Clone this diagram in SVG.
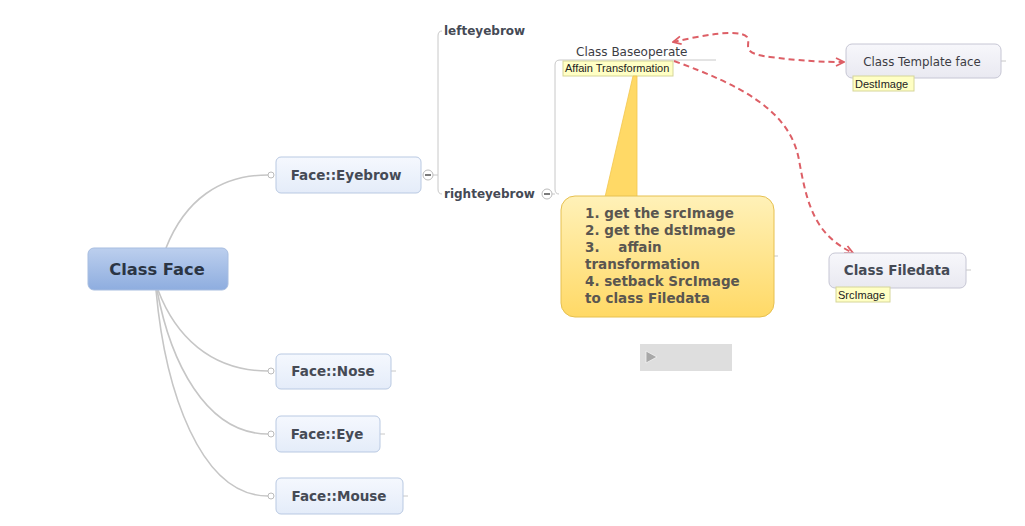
<svg xmlns="http://www.w3.org/2000/svg" width="1025" height="526" viewBox="0 0 1025 526">
<defs>
<linearGradient id="gRoot" x1="0" y1="0" x2="0" y2="1"><stop offset="0" stop-color="#bccfee"/><stop offset="1" stop-color="#8eaddf"/></linearGradient>
<linearGradient id="gTopic" x1="0" y1="0" x2="0" y2="1"><stop offset="0" stop-color="#f5f8fe"/><stop offset="1" stop-color="#e4ecf9"/></linearGradient>
<linearGradient id="gGray" x1="0" y1="0" x2="0" y2="1"><stop offset="0" stop-color="#f7f7fb"/><stop offset="1" stop-color="#e9e9f1"/></linearGradient>
<linearGradient id="gNote" x1="0" y1="0" x2="0" y2="1"><stop offset="0" stop-color="#fff1b8"/><stop offset="1" stop-color="#ffd966"/></linearGradient>
<marker id="arr" viewBox="0 0 10 10" refX="9" refY="5" markerWidth="10" markerHeight="10" markerUnits="userSpaceOnUse" orient="auto-start-reverse">
<path d="M1,1 L9,5 L1,9" fill="none" stroke="#dd5f66" stroke-width="1.8"/>
</marker>
<style>
.topic{fill:url(#gTopic);stroke:#b9c9e2;stroke-width:1}
.gray{fill:url(#gGray);stroke:#c6c6d4;stroke-width:1}
.t{font-family:"DejaVu Sans",Verdana,sans-serif;font-weight:bold;font-size:13.5px;fill:#454a55}
.n{font-family:"DejaVu Sans",Verdana,sans-serif;font-size:12px;fill:#3c3c44}
.lab{fill:#ffffc4;stroke:#d6d69a;stroke-width:1}
.lt{font-family:"Liberation Sans",Arial,sans-serif;font-size:11px;fill:#222}
.conn{fill:none;stroke:#c6c6c6;stroke-width:1.6}
.br{fill:none;stroke:#c8c8c8;stroke-width:1}
.dot{fill:#fff;stroke:#bbb;stroke-width:1}
.rel{fill:none;stroke:#dd5f66;stroke-width:2;stroke-dasharray:6,4}
.ct{font-family:"DejaVu Sans",Verdana,sans-serif;font-weight:bold;font-size:13.5px;fill:#5a5650}
</style>
</defs>
<rect width="1025" height="526" fill="#fff"/>
<g id="connectors">
<path class="conn" d="M166,248 C185,200 220,175 268,175"/>
<path class="conn" d="M158,290 C175,335 210,371 268,371"/>
<path class="conn" d="M157,290 C170,360 205,434 268,434"/>
<path class="conn" d="M156,290 C165,390 200,496 268,496"/>
<circle class="dot" cx="271" cy="175" r="3"/>
<circle class="dot" cx="271" cy="371" r="3"/>
<circle class="dot" cx="271" cy="434" r="3"/>
<circle class="dot" cx="271" cy="496" r="3"/>
<path class="br" d="M433,175 H438 M442,31 Q438,31 438,36 V189 Q438,194 442,194"/>
<path class="br" d="M552,194 H555 M560,60 Q555,60 555,65 V189 Q555,194 559,194"/>
<path class="br" d="M560,60 H716"/>
<path class="br" d="M391,371 H396 M380,434 H385 M403,496 H408 M1001,61 H1006 M966,270 H971 M774,256 H778"/>
<path class="rel" marker-start="url(#arr)" marker-end="url(#arr)" d="M673,42 C700,36 738,28 747,37 C752,45 738,53 770,57 C800,61 825,62 844,62"/>
<path class="rel" marker-end="url(#arr)" d="M674,61 C740,85 790,110 799,160 C807,205 815,235 853,253"/>
</g>
<g id="root">
<rect x="88" y="248" width="140" height="42" rx="6" fill="url(#gRoot)" stroke="#a7bde0"/>
<text x="157" y="275" text-anchor="middle" font-family="DejaVu Sans,Verdana,sans-serif" font-weight="bold" font-size="16.3" fill="#2b3544">Class Face</text>
</g>
<g id="eyebrow">
<rect class="topic" x="276" y="157" width="145" height="36" rx="5"/>
<text class="t" x="346" y="180" text-anchor="middle">Face::Eyebrow</text>
<circle class="dot" cx="428" cy="175" r="5"/>
<path d="M425,175 H431" stroke="#333" stroke-width="1.3"/>
</g>
<g id="lefteyebrow">
<text class="t" x="444" y="35" style="font-size:12px">lefteyebrow</text>
</g>
<g id="righteyebrow">
<text class="t" x="444" y="198" style="font-size:12px">righteyebrow</text>
<circle class="dot" cx="547" cy="194" r="5"/>
<path d="M544,194 H550" stroke="#333" stroke-width="1.3"/>
</g>
<g id="baseoperate">
<text class="n" x="576" y="56">Class Baseoperate</text>
<rect class="lab" x="563" y="61" width="110" height="15"/>
<text class="lt" x="565" y="72">Affain Transformation</text>
</g>
<g id="callout">
<polygon points="605,197 637,197 637,76 633,76" fill="#ffd966" stroke="#f2c64e" stroke-width="0.8"/>
<rect x="561" y="196" width="213" height="121" rx="14" fill="url(#gNote)" stroke="#e6c050" stroke-width="1"/>
<text class="ct" x="585" y="218">1. get the srcImage</text>
<text class="ct" x="585" y="235">2. get the dstImage</text>
<text class="ct" x="585" y="252" xml:space="preserve">3.    affain</text>
<text class="ct" x="585" y="269">transformation</text>
<text class="ct" x="585" y="286">4. setback SrcImage</text>
<text class="ct" x="585" y="303">to class Filedata</text>
</g>
<g id="template">
<rect class="gray" x="846" y="44" width="155" height="34" rx="6"/>
<text class="n" x="922" y="66" text-anchor="middle" style="font-size:11.8px">Class Template face</text>
<rect class="lab" x="853" y="76" width="61" height="15"/>
<text class="lt" x="855" y="88">DestImage</text>
</g>
<g id="filedata">
<rect class="gray" x="829" y="253" width="137" height="35" rx="6"/>
<text class="t" x="897" y="275" text-anchor="middle">Class Filedata</text>
<rect class="lab" x="836" y="287" width="54" height="15"/>
<text class="lt" x="838" y="299">SrcImage</text>
</g>
<g id="nose">
<rect class="topic" x="276" y="354" width="115" height="35" rx="5"/>
<text class="t" x="333" y="376" text-anchor="middle">Face::Nose</text>
</g>
<g id="eye">
<rect class="topic" x="276" y="416" width="104" height="36" rx="5"/>
<text class="t" x="327" y="439" text-anchor="middle">Face::Eye</text>
</g>
<g id="mouse">
<rect class="topic" x="276" y="478" width="127" height="36" rx="5"/>
<text class="t" x="339" y="501" text-anchor="middle">Face::Mouse</text>
</g>
<g id="player">
<rect x="640" y="344" width="92" height="27" fill="#dedede"/>
<polygon points="646,351 646,363 657,357" fill="#a8a8a8" stroke="#f2f2f2" stroke-width="0.8"/>
</g>
</svg>
